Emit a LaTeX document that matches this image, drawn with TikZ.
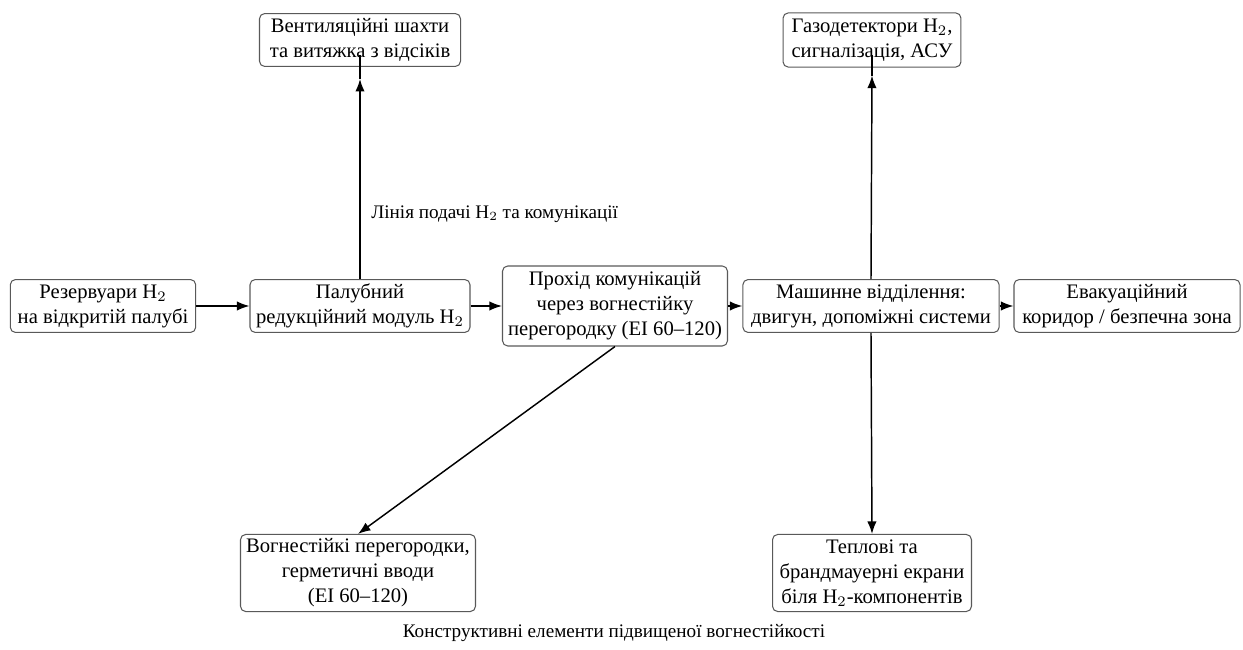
\documentclass[tikz,border=0pt]{standalone}
\usepackage{fontspec}
\setmainfont{Liberation Serif}
\usetikzlibrary{arrows.meta,calc}
\begin{document}
\begin{tikzpicture}[x=0.48pt,y=-0.48pt,
  box/.style={draw=black!65,rounded corners=2.5pt,align=center,inner sep=1pt,
    font=\fontsize{9.9}{12}\selectfont,line width=0.5pt},
  arr/.style={-{Latex[length=6pt,width=4.5pt]},line width=0.7pt},
  ln/.style={line width=0.7pt},
  lbl/.style={font=\fontsize{9.2}{11}\selectfont}]
\useasboundingbox (0,0) rectangle (1243,650);
\node[box,minimum width=89pt,minimum height=25.4pt] (rez) at (103,306) {Резервуари H$_2$\\на відкритій палубі};
\node[box,minimum width=105.6pt,minimum height=25.4pt] (pal) at (360,306) {Палубний\\редукційний модуль H$_2$};
\node[box,minimum width=108pt,minimum height=38.4pt] (pro) at (615,306) {Прохід комунікацій\\через вогнестійку\\перегородку (EI 60–120)};
\node[box,minimum width=123pt,minimum height=25.4pt] (mash) at (871,306) {Машинне відділення:\\двигун, допоміжні системи};
\node[box,minimum width=108.5pt,minimum height=25.4pt] (evak) at (1127,306) {Евакуаційний\\коридор / безпечна зона};
\node[box,minimum width=96.5pt,minimum height=25.4pt] (vent) at (360,40) {Вентиляційні шахти\\та витяжка з відсіків};
\node[box,minimum width=85.4pt,minimum height=26pt] (gaz) at (872,40) {Газодетектори H$_2$,\\сигналізація, АСУ};
\node[box,minimum width=112.8pt,minimum height=37pt] (vogn) at (358,573) {Вогнестійкі перегородки,\\герметичні вводи\\(EI 60–120)};
\node[box,minimum width=95.5pt,minimum height=37pt] (tepl) at (872,573) {Теплові та\\брандмауерні екрани\\біля H$_2$-компонентів};
\node[lbl,anchor=west] (lin) at (364,214) {Лінія подачі H$_2$ та комунікації};
\node[lbl] (cap) at (614,633) {Конструктивні елементи підвищеної вогнестійкості};
\draw[arr] (rez) -- (pal);
\draw[arr] (pal) -- (pro);
\draw[arr] (pro) -- (mash);
\draw[arr] (mash) -- (evak);
\draw[arr] (pal.north) -- ($(vent.south)+(0,12)$);
\draw[ln] ($(vent.south)+(0,12)$) -- ($(vent.center)+(0,15)$);
\draw[arr] (mash.north) -- ($(gaz.south)+(0,8)$);
\draw[ln] ($(gaz.south)+(0,8)$) -- ($(gaz.center)+(0,15)$);
\draw[arr] (mash.south) -- (tepl.north);
\draw[arr] (pro.south) -- (vogn.north);
\end{tikzpicture}
\end{document}
